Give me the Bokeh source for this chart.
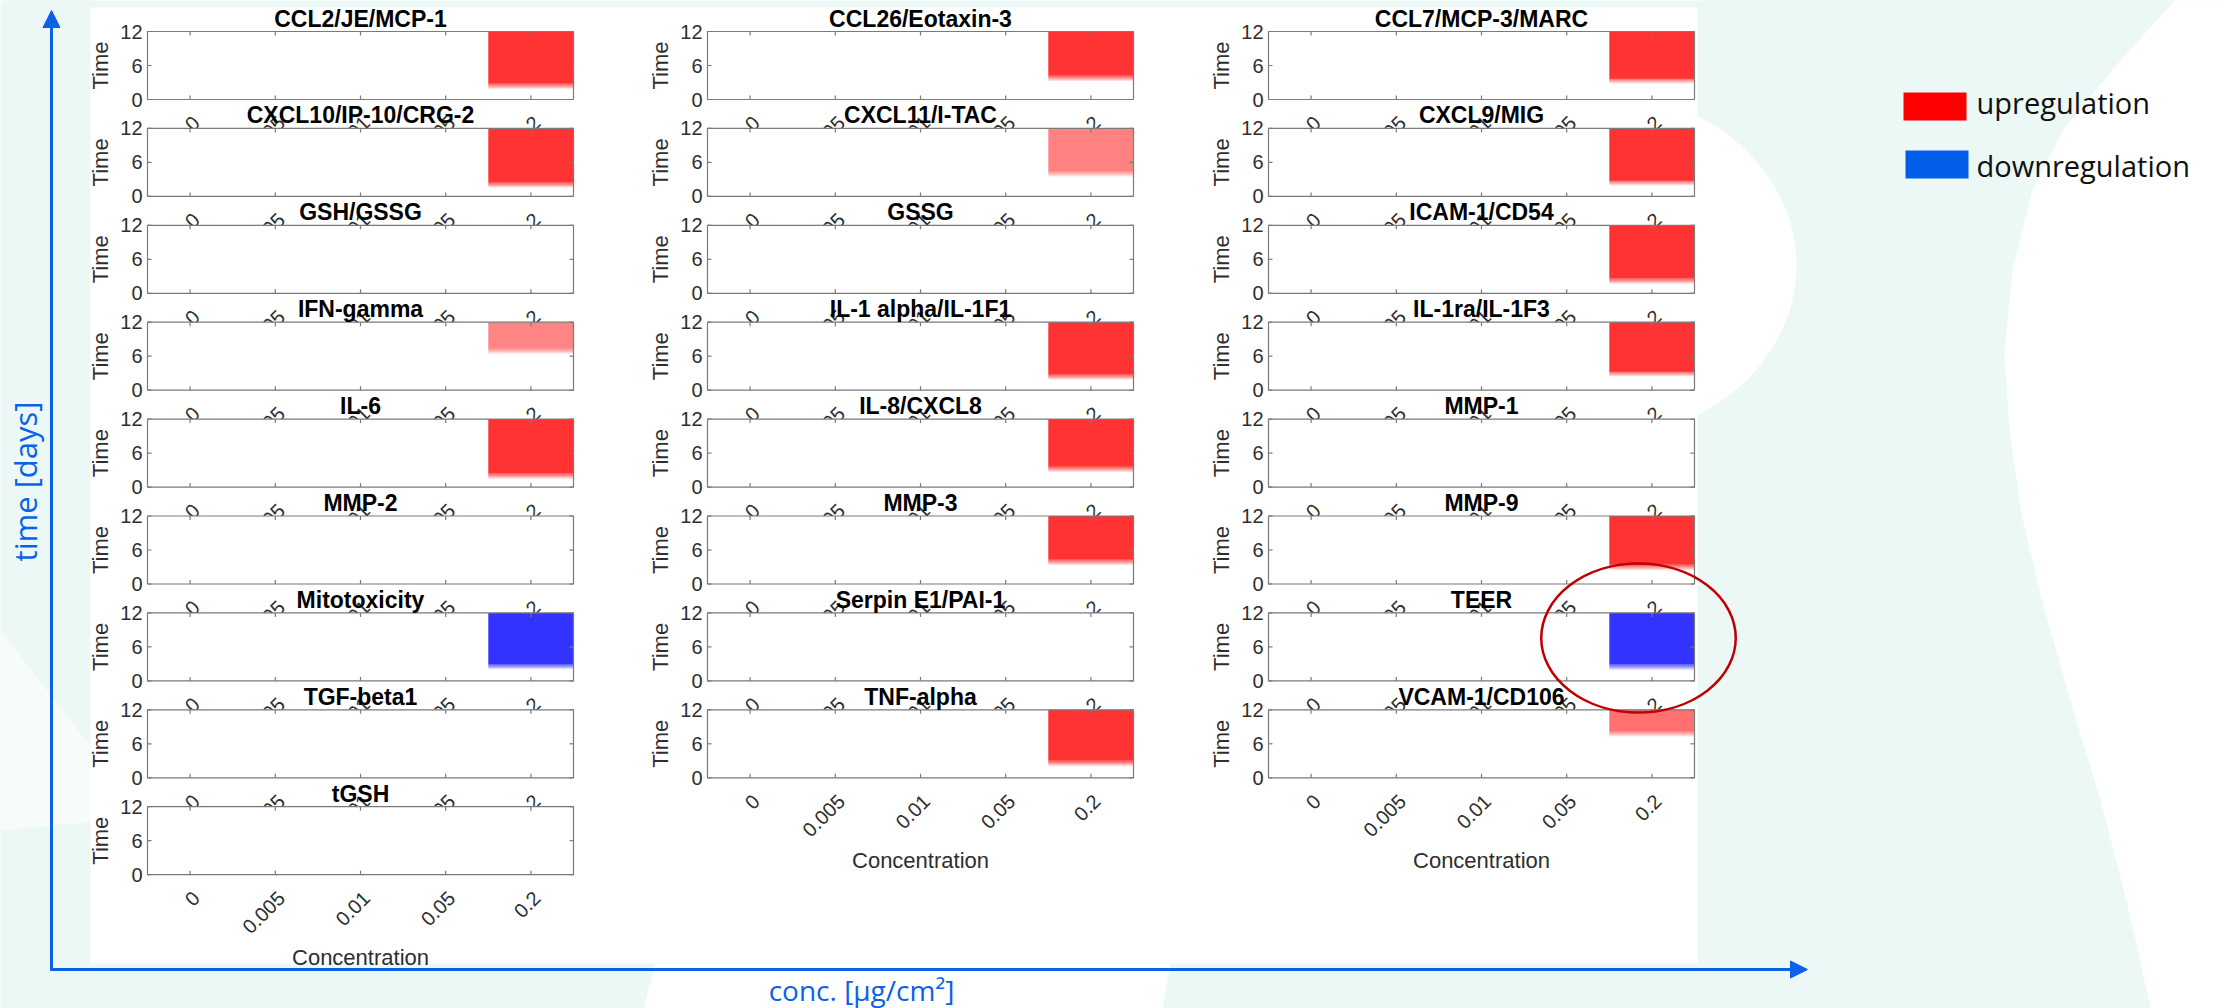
import math
from bokeh.plotting import figure
from bokeh.models import Range1d, Arrow, NormalHead
from bokeh.core.properties import value
from bokeh.embed import file_html
from bokeh.resources import INLINE

# ---------------- data ----------------
conc_labels = ["0", "0.005", "0.01", "0.05", "0.2"]
time_ticks = [0, 6, 12]
time_tick_labels = ["0", "6", "12"]
effect_conc = "0.2"

names1 = ["CCL2/JE/MCP-1", "CXCL10/IP-10/CRG-2", "GSH/GSSG", "IFN-gamma", "IL-6",
          "MMP-2", "Mitotoxicity", "TGF-beta1", "tGSH"]
dir1 = [1, 1, 0, 1, 1, 0, -1, 0, 0]
onset1 = [1.8, 1.5, None, 6.3, 1.4, None, 2.0, None, None]
level1 = [1.0, 1.0, 0, 0.6, 1.0, 0, 1.0, 0, 0]

names2 = ["CCL26/Eotaxin-3", "CXCL11/I-TAC", "GSSG", "IL-1 alpha/IL-1F1", "IL-8/CXCL8",
          "MMP-3", "Serpin E1/PAI-1", "TNF-alpha"]
dir2 = [1, 1, 0, 1, 1, 1, 0, 1]
onset2 = [3.2, 3.4, None, 1.8, 2.6, 3.3, None, 2.0]
level2 = [1.0, 0.62, 0, 1.0, 1.0, 1.0, 0, 1.0]

names3 = ["CCL7/MCP-3/MARC", "CXCL9/MIG", "ICAM-1/CD54", "IL-1ra/IL-1F3", "MMP-1",
          "MMP-9", "TEER", "VCAM-1/CD106"]
dir3 = [1, 1, 1, 1, 0, 1, -1, 1]
onset3 = [2.8, 1.9, 1.6, 2.4, None, 2.4, 1.9, 7.2]
level3 = [1.0, 1.0, 1.0, 1.0, 0, 1.0, 1.0, 0.7]

legend_labels = ["upregulation", "downregulation"]

# ---------------- style / layout ----------------
W, H = 2220, 1008
BG = "#EBF8F5"
BLUE = "#0B62E8"
UP = "#FF3333"
DOWN = "#3333FF"
AX = "#7a7a7a"
TXT = "#2e2e2e"
MFONT = value("Liberation Sans")
SFONT = value("Open Sans")

col_left = [147, 707, 1268]
panel_w, panel_h = 426, 68
row_top0, row_pitch = 31, 96.9

p = figure(width=W, height=H, x_range=Range1d(0, W), y_range=Range1d(H, 0),
           output_backend="svg", toolbar_location=None, min_border=0,
           x_axis_type=None, y_axis_type=None)
p.outline_line_color = None
p.background_fill_color = BG
p.border_fill_color = BG

# decorative background shapes
rx = [2240, 2183, 2120, 2062, 2031, 2012, 2004, 2009, 2021, 2044, 2072, 2100, 2126, 2153, 2240]
ry = [-10, -10, 60, 130, 193, 270, 353, 430, 514, 610, 707, 800, 900, 1020, 1020]
p.patch(rx, ry, fill_color="white", line_color=None)
p.ellipse(x=[1600], y=[265], width=[392], height=[344], fill_color="white", line_color=None)
p.patch([640, 655, 1170, 1160], [1020, 963, 963, 1020], fill_color="white", line_color=None)
p.patch([-10, 95, 95, -10], [617, 752, 821, 831], fill_color="#F7FCFB", line_color=None)

# white figure area
p.quad(left=[90], right=[1697], top=[7], bottom=[963], fill_color="white", line_color=None)

# blue axis arrows
p.add_layout(Arrow(end=NormalHead(size=17, fill_color=BLUE, line_color=BLUE),
                   x_start=51, y_start=970, x_end=51, y_end=10,
                   line_color=BLUE, line_width=3))
p.add_layout(Arrow(end=NormalHead(size=17, fill_color=BLUE, line_color=BLUE),
                   x_start=50, y_start=969, x_end=1807, y_end=969,
                   line_color=BLUE, line_width=3))
p.text(x=[24], y=[481], text=["time [days]"], angle=math.pi / 2, text_align="center",
       text_baseline="middle", text_font=SFONT, text_font_size="31px", text_color=BLUE)
p.text(x=[861], y=[989], text=["conc. [µg/cm²]"], text_align="center",
       text_baseline="alphabetic", text_font=SFONT, text_font_size="28px", text_color=BLUE)

xt = list(range(1, len(conc_labels) + 1))
tlx = 4 * 5.0 / panel_w
tly = 4 * 12.0 / panel_h
NSTRIP = 6
FADE = 1.0


def draw_panel(left, top, name, direction, onset, level, last):
    sub = p.subplot(x_source=Range1d(0.5, 5.5), y_source=Range1d(0, 12),
                    x_target=Range1d(left, left + panel_w),
                    y_target=Range1d(top + panel_h, top))
    sub.quad(left=[0.5], right=[5.5], bottom=[0], top=[12], fill_color="white", line_color=None)
    if direction != 0:
        color = UP if direction > 0 else DOWN
        xc = conc_labels.index(effect_conc) + 1
        sub.quad(left=[xc - 0.5], right=[xc + 0.5], bottom=[onset + FADE], top=[12],
                 fill_color=color, fill_alpha=level, line_color=None)
        for k in range(NSTRIP):
            b = onset + k * FADE / NSTRIP
            sub.quad(left=[xc - 0.5], right=[xc + 0.5], bottom=[b], top=[b + FADE / NSTRIP],
                     fill_color=color, fill_alpha=level * (k + 0.5) / NSTRIP, line_color=None)
    # box
    sub.quad(left=[0.5], right=[5.5], bottom=[0], top=[12], fill_color=None,
             line_color=AX, line_width=1.2)
    # ticks
    sub.segment(x0=xt, y0=[0] * 5, x1=xt, y1=[tly] * 5, line_color=AX, line_width=1.2)
    sub.segment(x0=xt, y0=[12] * 5, x1=xt, y1=[12 - tly] * 5, line_color=AX, line_width=1.2)
    sub.segment(x0=[0.5] * 3, y0=time_ticks, x1=[0.5 + tlx] * 3, y1=time_ticks,
                line_color=AX, line_width=1.2)
    sub.segment(x0=[5.5] * 3, y0=time_ticks, x1=[5.5 - tlx] * 3, y1=time_ticks,
                line_color=AX, line_width=1.2)
    # tick labels
    sub.text(x=xt, y=[0] * 5, text=conc_labels, angle=math.pi / 4, text_align="right",
             text_baseline="middle", x_offset=6, y_offset=20, text_font=MFONT,
             text_font_size="20px", text_color=TXT)
    sub.text(x=[0.5] * 3, y=time_ticks, text=time_tick_labels, text_align="right",
             text_baseline="middle", x_offset=-5, text_font=MFONT, text_font_size="20px",
             text_color=TXT)
    sub.text(x=[0.5], y=[6], text=["Time"], angle=math.pi / 2, text_align="center",
             text_baseline="alphabetic", x_offset=-47, text_font=MFONT,
             text_font_size="22px", text_color=TXT)
    sub.text(x=[3], y=[12], text=[name], text_align="center", text_baseline="alphabetic",
             y_offset=-13, text_font=MFONT, text_font_size="23px", text_font_style="bold",
             text_color="black")
    if last:
        sub.text(x=[3], y=[0], text=["Concentration"], text_align="center",
                 text_baseline="alphabetic", y_offset=83, text_font=MFONT,
                 text_font_size="22px", text_color=TXT)


for ci, (names, dirs, onsets, levels) in enumerate([(names1, dir1, onset1, level1),
                                                     (names2, dir2, onset2, level2),
                                                     (names3, dir3, onset3, level3)]):
    for ri, nm in enumerate(names):
        draw_panel(col_left[ci], row_top0 + ri * row_pitch, nm, dirs[ri], onsets[ri],
                   levels[ri], ri == len(names) - 1)

# highlight ellipse
p.ellipse(x=[1638], y=[637.5], width=[194.5], height=[149], fill_color=None,
          line_color="#C00000", line_width=2.5)

# legend
p.quad(left=[1903, 1905], right=[1966, 1968], top=[92, 150], bottom=[120, 178],
       fill_color=["#FF0000", "#005EEB"], line_color=None)
p.text(x=[1976, 1976], y=[102, 165], text=legend_labels, text_align="left",
       text_baseline="alphabetic", text_font=SFONT, text_font_size="29px",
       text_color="#111111")

open("out.html", "w").write(file_html(p, INLINE))
